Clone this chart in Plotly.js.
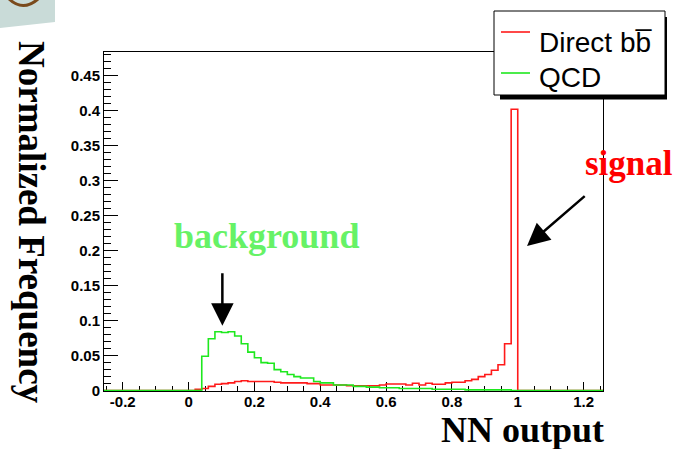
<!DOCTYPE html>
<html>
<head>
<meta charset="utf-8">
<script src="https://cdn.plot.ly/plotly-3.0.1.min.js"></script>
<style>
  html, body { margin: 0; padding: 0; background: #ffffff; }
  #chart { width: 677px; height: 449px; }
</style>
</head>
<body>
<div id="chart"></div>
<script>
// Histogram binning: 50 bins of width 0.02 over [0, 1]
const binLow = 0.0;
const binWidth = 0.02;

// Normalized NN output distributions (one value per bin)
const directBB = [
  0, 0.002, 0.003, 0.006, 0.009, 0.010, 0.011, 0.013, 0.014, 0.013,
  0.013, 0.013, 0.013, 0.012, 0.011, 0.011, 0.011, 0.011, 0.010, 0.010,
  0.008, 0.008, 0.008, 0.008, 0.007, 0.007, 0.007, 0.007, 0.007, 0.008,
  0.0095, 0.0095, 0.0095, 0.008, 0.0105, 0.008, 0.0105, 0.009, 0.009, 0.011,
  0.012, 0.012, 0.014, 0.016, 0.020, 0.023, 0.029, 0.037, 0.067, 0.402
];
const qcd = [
  0, 0, 0.049, 0.074, 0.084, 0.083, 0.084, 0.078, 0.067, 0.055,
  0.047, 0.040, 0.039, 0.030, 0.027, 0.023, 0.020, 0.018, 0.018, 0.013,
  0.011, 0.011, 0.008, 0.008, 0.008, 0.006, 0.006, 0.005, 0.005, 0.004,
  0.004, 0.004, 0.003, 0.003, 0.003, 0.003, 0.003, 0.002, 0.002, 0.002,
  0.002, 0.002, 0.001, 0.001, 0.001, 0.001, 0.001, 0.001, 0.001, 0
];

const seriesNames = ['Direct b' + 'b\u0305', 'QCD'];
const xTickVals = [-0.2, 0, 0.2, 0.4, 0.6, 0.8, 1, 1.2];
const xTickText = ['-0.2', '0', '0.2', '0.4', '0.6', '0.8', '1', '1.2'];
const yTickVals = [0, 0.05, 0.1, 0.15, 0.2, 0.25, 0.3, 0.35, 0.4, 0.45];
const yTickText = ['0', '0.05', '0.1', '0.15', '0.2', '0.25', '0.3', '0.35', '0.4', '0.45'];

// Canvas geometry
const W = 677, H = 449;
const M = { l: 104, r: 74, t: 52, b: 58 };
const PW = W - M.l - M.r, PH = H - M.t - M.b;
const xRange = [-0.257, 1.259];
const yRange = [-0.0006, 0.4837];

// pixel -> paper helpers for decorations placed outside the axes
const px = v => (v - M.l) / PW;
const py = v => (H - M.b - v) / PH;

// Outline of a histogram as a stepped line, flat at zero outside the bins
function stepLine(values) {
  const xs = [xRange[0] - 0.1], ys = [0];
  values.forEach((v, i) => { xs.push(binLow + i * binWidth); ys.push(v); });
  xs.push(binLow + values.length * binWidth); ys.push(0);
  xs.push(xRange[1] + 0.1); ys.push(0);
  return { x: xs, y: ys };
}

const red = '#ff1a1a';
const green = '#1ee81e';

const sBB = stepLine(directBB);
const sQCD = stepLine(qcd);

const traces = [
  { type: 'scatter', mode: 'lines', name: seriesNames[0], x: sBB.x, y: sBB.y,
    line: { color: red, width: 1.6, shape: 'hv' }, hoverinfo: 'skip' },
  { type: 'scatter', mode: 'lines', name: seriesNames[1], x: sQCD.x, y: sQCD.y,
    line: { color: green, width: 1.6, shape: 'hv' }, hoverinfo: 'skip' }
];

const tickFont = { family: 'Liberation Sans, Arial, sans-serif', size: 15, color: '#000', weight: 'bold' };
const serifBold = (size, color) => ({ family: 'Liberation Serif, Times New Roman, serif', size: size, color: color, weight: 'bold' });
const legendFont = { family: 'Liberation Sans, Arial, sans-serif', size: 28, color: '#000' };

const shapes = [
  // corner of the slide logo
  { type: 'path', xref: 'paper', yref: 'paper', layer: 'above',
    path: `M ${px(0)},${py(0)} L ${px(55)},${py(0)} L ${px(55)},${py(22)} L ${px(0)},${py(28)} Z`,
    fillcolor: '#c9dbd8', line: { width: 0 } },
  { type: 'path', xref: 'paper', yref: 'paper', layer: 'above',
    path: `M ${px(9)},${py(-1)} Q ${px(23)},${py(12)} ${px(38)},${py(-1)}`,
    line: { color: '#7a4a1c', width: 3 } },
  // legend box with shadow
  { type: 'rect', xref: 'paper', yref: 'paper', x0: px(500), x1: px(667), y0: py(99.5), y1: py(17),
    fillcolor: '#000', line: { width: 0 } },
  { type: 'rect', xref: 'paper', yref: 'paper', x0: px(494), x1: px(665), y0: py(95), y1: py(11),
    fillcolor: '#fff', line: { color: '#000', width: 1 } },
  { type: 'line', xref: 'paper', yref: 'paper', x0: px(501), x1: px(530), y0: py(32), y1: py(32),
    line: { color: red, width: 1.6 } },
  { type: 'line', xref: 'paper', yref: 'paper', x0: px(501), x1: px(530), y0: py(73), y1: py(73),
    line: { color: green, width: 1.6 } }
];

const annotations = [
  { xref: 'paper', yref: 'paper', x: px(537), y: py(42), xanchor: 'left', yanchor: 'middle',
    text: seriesNames[0], showarrow: false, font: legendFont },
  { xref: 'paper', yref: 'paper', x: px(537), y: py(77), xanchor: 'left', yanchor: 'middle',
    text: seriesNames[1], showarrow: false, font: legendFont },
  // axis titles
  { xref: 'paper', yref: 'paper', x: px(32), y: py(222), xanchor: 'center', yanchor: 'middle',
    text: 'Normalized Frequency', textangle: 90, showarrow: false, font: serifBold(37, '#000') },
  { xref: 'paper', yref: 'paper', x: px(522), y: py(430), xanchor: 'center', yanchor: 'middle',
    text: 'NN output', showarrow: false, font: serifBold(36, '#000') },
  // callouts
  { xref: 'paper', yref: 'paper', x: px(629), y: py(163), xanchor: 'center', yanchor: 'middle',
    text: 'signal', showarrow: false, font: serifBold(35, '#ff0000') },
  { xref: 'paper', yref: 'paper', x: px(266), y: py(236), xanchor: 'center', yanchor: 'middle',
    text: 'background', showarrow: false, font: serifBold(36, '#66f266') },
  { xref: 'x', yref: 'y', axref: 'x', ayref: 'y', x: 0.1026, y: 0.0925, ax: 0.1026, ay: 0.1696,
    text: '', showarrow: true, arrowhead: 2, arrowsize: 1.8, arrowwidth: 2.5, arrowcolor: '#000' },
  { xref: 'x', yref: 'y', axref: 'x', ayref: 'y', x: 1.0283, y: 0.2067, ax: 1.208, ay: 0.2796,
    text: '', showarrow: true, arrowhead: 2, arrowsize: 1.8, arrowwidth: 2.5, arrowcolor: '#000' }
];

const layout = {
  width: W, height: H,
  margin: M,
  paper_bgcolor: '#fff', plot_bgcolor: '#fff',
  showlegend: false,
  xaxis: {
    range: xRange, showgrid: false, zeroline: false,
    showline: true, linecolor: '#000', linewidth: 1, mirror: true, layer: 'below traces',
    ticks: 'inside', ticklen: 9, tickwidth: 1, tickcolor: '#000', ticklabelstandoff: -3,
    tickmode: 'array', tickvals: xTickVals, ticktext: xTickText, tickfont: tickFont,
    minor: { ticks: 'inside', ticklen: 5, tickwidth: 1, tickcolor: '#000', tickmode: 'linear', tick0: 0, dtick: 0.05 }
  },
  yaxis: {
    range: yRange, showgrid: false, zeroline: false,
    showline: true, linecolor: '#000', linewidth: 1, mirror: true, layer: 'below traces',
    ticks: 'inside', ticklen: 14, tickwidth: 1, tickcolor: '#000',
    tickmode: 'array', tickvals: yTickVals, ticktext: yTickText, tickfont: tickFont,
    minor: { ticks: 'inside', ticklen: 7, tickwidth: 1, tickcolor: '#000', tickmode: 'linear', tick0: 0, dtick: 0.01 }
  },
  shapes: shapes,
  annotations: annotations
};

Plotly.newPlot('chart', traces, layout, { staticPlot: true, displayModeBar: false });
</script>
</body>
</html>
